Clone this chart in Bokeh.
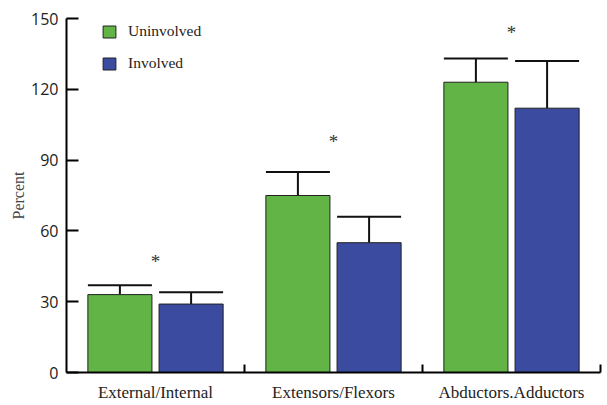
from bokeh.plotting import figure
from bokeh.models import (ColumnDataSource, Range1d, FixedTicker, Whisker, TeeHead,
                          Legend, LegendItem)
from bokeh.core.properties import value
from bokeh.embed import file_html
from bokeh.resources import INLINE

categories = ["External/Internal", "Extensors/Flexors", "Abductors.Adductors"]
uninvolved = [33, 75, 123]
uninvolved_err = [4, 10, 10]
involved = [29, 55, 112]
involved_err = [5, 11, 20]
star_y = [47, 98, 144]
y_ticks = [0, 30, 60, 90, 120, 150]

GREEN = "#62b446"
BLUE = "#3a4ba0"
SERIF = "Liberation Serif"
SANS = "Open Sans"

centers = [i + 0.5 for i in range(len(categories))]
off = 0.2
bw = 0.36

src_u = ColumnDataSource(dict(
    x=[c - off for c in centers], top=uninvolved,
    upper=[v + e for v, e in zip(uninvolved, uninvolved_err)]))
src_i = ColumnDataSource(dict(
    x=[c + off for c in centers], top=involved,
    upper=[v + e for v, e in zip(involved, involved_err)]))

p = figure(width=602, height=404, output_backend="svg", toolbar_location=None,
           x_range=Range1d(0, 3), y_range=Range1d(0, 150),
           min_border_left=66, min_border_right=2, min_border_top=18,
           min_border_bottom=20)
p.outline_line_color = None
p.xgrid.visible = False
p.ygrid.visible = False
p.background_fill_color = "white"
p.border_fill_color = "white"

ru = p.vbar(x="x", top="top", width=bw, source=src_u, fill_color=GREEN,
            line_color="#222222", line_width=1)
ri = p.vbar(x="x", top="top", width=bw, source=src_i, fill_color=BLUE,
            line_color="#222222", line_width=1)

for src in (src_u, src_i):
    w = Whisker(base="x", lower="top", upper="upper", source=src,
                dimension="height", line_width=2, line_color="#111111",
                upper_head=TeeHead(size=64, line_width=2, line_color="#111111"),
                lower_head=None)
    p.add_layout(w)

p.text(x=centers, y=star_y, text=["*"] * 3, text_font=value(SERIF),
       text_font_size="19px", text_align="center", text_baseline="middle",
       text_color="#333333")

# axes
p.yaxis.ticker = FixedTicker(ticks=y_ticks)
p.yaxis.major_tick_in = 12
p.yaxis.major_tick_out = 0
p.yaxis.minor_tick_line_color = None
p.yaxis.major_tick_line_width = 2
p.yaxis.axis_line_width = 2
p.yaxis.major_label_text_font = SANS
p.yaxis.major_label_text_font_size = "16px"
p.yaxis.major_label_text_color = "#222222"
p.yaxis.major_label_standoff = 8
p.yaxis.axis_label = "Percent"
p.yaxis.axis_label_text_font = SERIF
p.yaxis.axis_label_text_font_style = "normal"
p.yaxis.axis_label_text_font_size = "16px"
p.yaxis.axis_label_standoff = 1

p.xaxis.ticker = FixedTicker(ticks=centers, minor_ticks=[1, 2, 3])
p.xaxis.major_label_overrides = {c: lab for c, lab in zip(centers, categories)}
p.xaxis.major_tick_line_color = None
p.xaxis.major_tick_in = 0
p.xaxis.major_tick_out = 0
p.xaxis.minor_tick_in = 8
p.xaxis.minor_tick_out = 0
p.xaxis.minor_tick_line_width = 2
p.xaxis.minor_tick_line_color = "black"
p.xaxis.axis_line_width = 2
p.xaxis.major_label_text_font = SERIF
p.xaxis.major_label_text_font_size = "17px"
p.xaxis.major_label_text_color = "#222222"
p.xaxis.major_label_standoff = 10

legend = Legend(items=[LegendItem(label="Uninvolved", renderers=[ru]),
                       LegendItem(label="Involved", renderers=[ri])],
                location=(35, 299), orientation="vertical",
                glyph_width=16, glyph_height=15, label_height=20,
                spacing=12, padding=0, margin=0, label_standoff=11,
                border_line_color=None, background_fill_alpha=0,
                label_text_font=SERIF, label_text_font_size="15.5px",
                label_text_color="#222222")
p.add_layout(legend)

open("out.html", "w").write(file_html(p, INLINE))
